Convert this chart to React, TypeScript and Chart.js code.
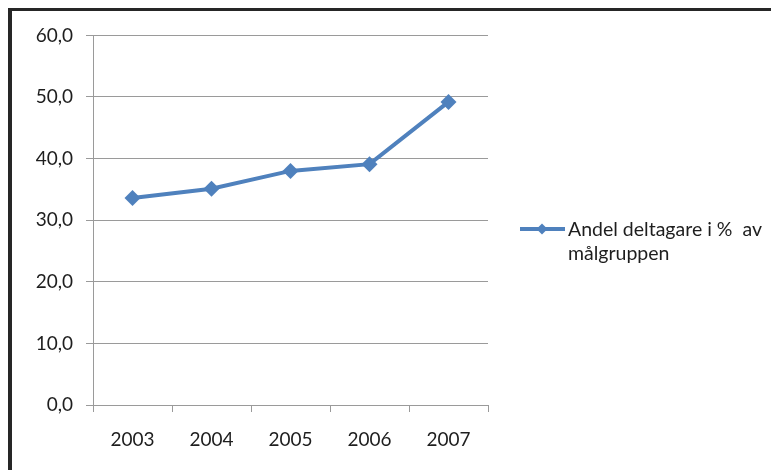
import React, { useEffect, useRef } from "react";
import { Chart, registerables } from "chart.js";

Chart.register(...registerables);

const categories = ["2003", "2004", "2005", "2006", "2007"];
const seriesValues = [33.6, 35.1, 38.0, 39.1, 49.2];
const seriesName = "Andel deltagare i %  av målgruppen";
const legendLines = ["Andel deltagare i %  av", "målgruppen"];

const FONT = "Lato, 'Open Sans', sans-serif";
const LINE_COLOR = "#4f81bd";
const GRID_COLOR = "#9a9a9a";
const TEXT_COLOR = "#1e1e1e";

const legendPlugin = {
  id: "customLegend",
  afterDraw(chart: any) {
    const ctx = chart.ctx;
    const area = chart.chartArea;
    const x0 = area.right + 32;
    const y0 = 218;
    ctx.save();
    ctx.strokeStyle = LINE_COLOR;
    ctx.lineWidth = 4;
    ctx.beginPath();
    ctx.moveTo(x0, y0);
    ctx.lineTo(x0 + 45, y0);
    ctx.stroke();
    const cx = x0 + 22;
    const r = 5.5;
    ctx.fillStyle = LINE_COLOR;
    ctx.beginPath();
    ctx.moveTo(cx, y0 - r);
    ctx.lineTo(cx + r, y0);
    ctx.lineTo(cx, y0 + r);
    ctx.lineTo(cx - r, y0);
    ctx.closePath();
    ctx.fill();
    ctx.fillStyle = TEXT_COLOR;
    ctx.font = `19.5px ${FONT}`;
    ctx.textBaseline = "alphabetic";
    ctx.textAlign = "left";
    legendLines.forEach((line, i) => {
      ctx.fillText(line, x0 + 48, y0 + 7 + i * 24);
    });
    ctx.restore();
  },
};

export default function App() {
  const canvasRef = useRef<HTMLCanvasElement | null>(null);

  useEffect(() => {
    if (!canvasRef.current) return;
    const chart = new Chart(canvasRef.current, {
      type: "line",
      data: {
        labels: categories,
        datasets: [
          {
            label: seriesName,
            data: seriesValues,
            borderColor: LINE_COLOR,
            backgroundColor: LINE_COLOR,
            borderWidth: 4,
            pointStyle: "rectRot",
            pointRadius: 8,
            pointHoverRadius: 8,
            pointBackgroundColor: LINE_COLOR,
            pointBorderColor: LINE_COLOR,
            pointBorderWidth: 0,
            tension: 0,
          },
        ],
      },
      options: {
        animation: false,
        responsive: false,
        events: [],
        layout: { padding: { left: 0, top: 22, right: 291, bottom: 0 } },
        plugins: {
          legend: { display: false },
          tooltip: { enabled: false },
          title: { display: false },
        },
        scales: {
          x: {
            type: "category",
            offset: true,
            grid: {
              offset: true,
              drawOnChartArea: false,
              drawTicks: true,
              tickLength: 7,
              color: GRID_COLOR,
            },
            border: { display: true, color: GRID_COLOR, width: 1 },
            ticks: {
              color: TEXT_COLOR,
              font: { family: FONT, size: 19 },
              padding: 16,
              maxRotation: 0,
            },
            afterFit: (scale: any) => {
              scale.height = 65;
            },
          },
          y: {
            min: 0,
            max: 60,
            grid: {
              color: GRID_COLOR,
              drawTicks: true,
              tickLength: 7,
            },
            border: { display: true, color: GRID_COLOR, width: 1 },
            ticks: {
              stepSize: 10,
              color: TEXT_COLOR,
              font: { family: FONT, size: 19 },
              padding: 13,
              callback: (v: any) => Number(v).toFixed(1).replace(".", ","),
            },
            afterFit: (scale: any) => {
              scale.width = 81;
            },
          },
        },
      },
      plugins: [legendPlugin],
    });
    return () => chart.destroy();
  }, []);

  return (
    <div
      style={{
        width: 771,
        height: 462,
        boxSizing: "border-box",
        borderLeft: "4px solid #262626",
        borderTop: "3px solid #262626",
        overflow: "hidden",
        background: "#fff",
      }}
    >
      <canvas ref={canvasRef} width={767} height={459} style={{ display: "block" }} />
    </div>
  );
}
